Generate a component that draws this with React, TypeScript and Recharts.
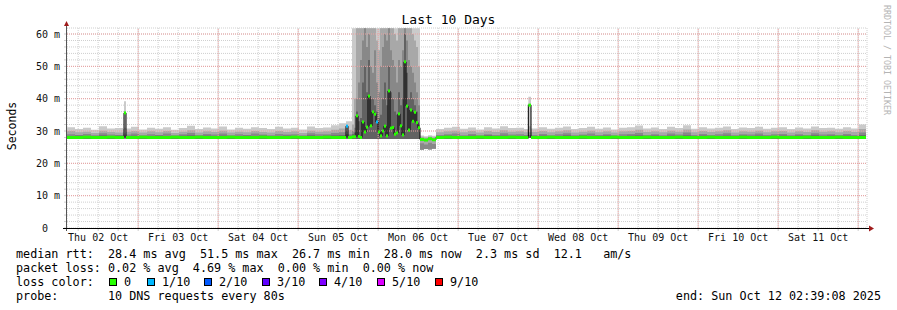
import React from 'react';
import { ComposedChart, Area, Line, XAxis, YAxis, CartesianGrid, ReferenceLine } from 'recharts';

// ---------------- data (hours since Thu 02 Oct 02:39) ----------------
const hours = [
  // before the event
  0, 2.4, 4.8, 7.2, 9.6, 12, 14.4, 16.8, 17.1, 17.7,
  19.2, 21.6, 24, 26.4, 28.8, 31.2, 33.6, 36, 38.4, 40.8,
  43.2, 45.6, 48, 50.4, 52.8, 55.2, 57.6, 60, 62.4, 64.8,
  67.2, 69.6, 72, 74.4, 76.8, 79.2, 81.6,
  // event Sun 05 / Mon 06
  83.7, 84.3, 84.9, 85.5, 86.1, 86.7, 87.3, 87.9, 88.5, 89.1,
  89.7, 90.3, 90.9, 91.5, 92.1, 92.7, 93.3, 93.9, 94.5, 95.1,
  95.7, 96.3, 96.9, 97.5, 98.1, 98.7, 99.3, 99.9, 100.5, 101.1,
  101.7, 102.3, 102.9, 103.5, 104.1, 104.7, 105.3,
  105.9, 107.1, 108.3, 109.5,
  // after the event
  110.7, 113.1, 115.5, 117.9, 120.3, 122.7, 125.1, 127.5, 129.9, 132.3,
  134.7, 137.1, 138.4, 139.2, 141.6, 144, 146.4, 148.8, 151.2, 153.6,
  156, 158.4, 160.8, 163.2, 165.6, 168, 170.4, 172.8, 175.2, 177.6,
  180, 182.4, 184.8, 187.2, 189.6, 192, 194.4, 196.8, 199.2, 201.6,
  204, 206.4, 208.8, 211.2, 213.6, 216, 218.4, 220.8, 223.2, 225.6,
  228, 230.4, 232.8, 235.2, 237.6, 239.7,
];

const median = [
  28.0, 28.0, 28.1, 28.0, 28.0, 28.1, 28.0, 28.0, 35.6, 28.0,
  28.0, 28.1, 28.0, 28.0, 28.0, 28.1, 28.0, 28.0, 28.1, 28.0,
  28.0, 28.0, 28.1, 28.0, 28.0, 28.0, 28.1, 28.0, 28.0, 28.0,
  28.1, 28.0, 28.0, 28.0, 28.1, 28.0, 28.0,
  31.5, 28.0, 28.0, 28.2, 28.2, 34.7, 28.3, 28.0, 32.8, 29.7,
  31.2, 40.8, 31.6, 35.9, 35.2, 32.8, 29.7, 28.5, 30.0, 31.5,
  28.5, 42.4, 30.9, 31.1, 29.0, 29.4, 35.3, 31.6, 28.8, 51.4,
  37.7, 30.3, 36.5, 33.0, 35.8, 32.6, 31.0,
  27.4, 27.2, 27.6, 27.3,
  28.0, 28.1, 28.0, 28.0, 28.0, 28.1, 28.0, 28.0, 28.0, 28.1,
  28.0, 28.0, 38.0, 28.0, 28.0, 28.1, 28.0, 28.0, 28.0, 28.1,
  28.0, 28.0, 28.0, 28.1, 28.0, 28.0, 28.0, 28.1, 28.0, 28.0,
  28.0, 28.1, 28.0, 28.0, 28.0, 28.1, 28.0, 28.0, 28.0, 28.1,
  28.0, 28.0, 28.0, 28.1, 28.0, 28.0, 28.0, 28.1, 28.0, 28.0,
  28.0, 28.1, 28.0, 28.0, 28.0, 28.0,
];

// lost pings out of 10
const lossTenths = [
  0, 0, 0, 0, 0, 0, 0, 0, 0, 0,
  0, 0, 0, 0, 0, 0, 0, 0, 0, 0,
  0, 0, 0, 0, 0, 0, 0, 0, 0, 0,
  0, 0, 0, 0, 0, 0, 0,
  1, 0, 0, 0, 0, 0, 0, 0, 0, 0,
  0, 0, 0, 0, 0, 1, 0, 0, 0, 0,
  0, 0, 0, 0, 0, 0, 0, 0, 0, 0,
  0, 0, 0, 0, 0, 0, 0,
  0, 0, 0, 0,
  0, 0, 0, 0, 0, 0, 0, 0, 0, 0,
  0, 0, 0, 0, 0, 0, 0, 0, 0, 0,
  0, 0, 0, 0, 0, 0, 0, 0, 0, 0,
  0, 0, 0, 0, 0, 0, 0, 0, 0, 0,
  0, 0, 0, 0, 0, 0, 0, 0, 0, 0,
  0, 0, 0, 0, 0, 0,
];

// smoke: lowest ping and four layer tops (light -> dark)
const smokeLow = [
  27.6, 27.6, 27.6, 27.6, 27.6, 27.6, 27.6, 27.6, 27.7, 27.6,
  27.6, 27.6, 27.6, 27.6, 27.6, 27.6, 27.6, 27.6, 27.6, 27.6,
  27.6, 27.6, 27.6, 27.6, 27.6, 27.6, 27.6, 27.6, 27.6, 27.6,
  27.6, 27.6, 27.6, 27.6, 27.6, 27.6, 27.6,
  27.6, 27.6, 27.6, 27.5, 27.5, 27.5, 27.5, 27.5, 27.5, 27.5,
  27.5, 27.5, 27.5, 27.5, 27.5, 27.5, 27.5, 27.5, 27.5, 27.5,
  27.5, 27.5, 27.5, 27.5, 27.5, 27.5, 27.5, 27.5, 27.5, 27.5,
  27.5, 27.5, 27.5, 27.5, 27.5, 27.5, 27.5,
  24.2, 24.4, 24.3, 24.5,
  27.6, 27.6, 27.6, 27.6, 27.6, 27.6, 27.6, 27.6, 27.6, 27.6,
  27.6, 27.6, 27.8, 27.6, 27.6, 27.6, 27.6, 27.6, 27.6, 27.6,
  27.6, 27.6, 27.6, 27.6, 27.6, 27.6, 27.6, 27.6, 27.6, 27.6,
  27.6, 27.6, 27.6, 27.6, 27.6, 27.6, 27.6, 27.6, 27.6, 27.6,
  27.6, 27.6, 27.6, 27.6, 27.6, 27.6, 27.6, 27.6, 27.6, 27.6,
  27.6, 27.6, 27.6, 27.6, 27.6, 27.6,
];

const smoke1 = [
  31.2, 30.6, 31.0, 30.4, 31.5, 30.8, 30.9, 30.6, 39.2, 30.8,
  31.3, 30.5, 31.0, 30.7, 31.2, 30.4, 30.9, 31.6, 30.6, 31.1,
  30.8, 31.4, 30.5, 31.0, 30.7, 31.2, 30.9, 30.6, 31.3, 30.8,
  31.0, 30.5, 31.4, 30.9, 31.1, 31.8, 32.4,
  33.0, 33.0, 33.0, 61.8, 61.8, 61.8, 61.8, 61.8, 61.8, 61.8,
  61.8, 61.8, 61.8, 61.8, 61.8, 61.8, 61.8, 61.8, 61.8, 61.8,
  61.8, 61.8, 61.8, 61.8, 61.8, 61.8, 61.8, 61.8, 61.8, 61.8,
  61.8, 61.8, 61.8, 61.8, 61.8, 61.8, 61.8,
  28.6, 28.4, 28.7, 28.5,
  30.6, 31.0, 31.3, 30.7, 31.1, 30.5, 31.2, 30.8, 31.5, 30.9,
  31.0, 30.6, 40.6, 30.8, 31.2, 30.7, 31.0, 31.4, 30.6, 30.9,
  31.3, 30.7, 31.1, 30.5, 31.0, 31.2, 31.7, 30.8, 31.1, 30.6,
  31.3, 30.9, 31.8, 30.7, 31.2, 30.8, 31.0, 31.4, 30.6, 31.1,
  30.9, 31.3, 30.7, 31.0, 31.2, 30.6, 31.1, 30.8, 31.4, 30.9,
  31.0, 30.7, 31.2, 30.8, 32.0, 32.0,
];

const smoke2 = [
  30.0, 29.6, 29.8, 29.4, 30.1, 29.7, 29.5, 29.6, 31.0, 29.8,
  30.0, 29.5, 29.9, 29.6, 30.0, 29.4, 29.8, 30.2, 29.5, 29.9,
  29.7, 30.1, 29.5, 29.8, 29.6, 30.0, 29.7, 29.5, 30.0, 29.7,
  29.9, 29.4, 30.1, 29.8, 29.9, 30.4, 30.8,
  31.0, 30.2, 30.4, 32.0, 40.0, 61.8, 61.8, 61.8, 61.8, 61.8,
  61.8, 61.8, 61.8, 61.8, 61.8, 58.0, 55.0, 61.8, 61.8, 61.8,
  61.8, 61.8, 61.8, 61.8, 60.0, 58.0, 61.8, 61.8, 61.8, 61.8,
  61.8, 61.8, 61.8, 60.0, 58.0, 56.0, 50.0,
  28.2, 28.0, 28.3, 28.1,
  29.6, 29.9, 30.1, 29.6, 30.0, 29.5, 30.0, 29.7, 30.2, 29.8,
  29.9, 29.6, 31.5, 29.7, 30.0, 29.6, 29.9, 30.2, 29.5, 29.8,
  30.1, 29.6, 29.9, 29.5, 29.9, 30.0, 30.4, 29.7, 29.9, 29.6,
  30.1, 29.8, 30.5, 29.6, 30.0, 29.7, 29.9, 30.2, 29.5, 29.9,
  29.8, 30.1, 29.6, 29.9, 30.0, 29.5, 29.9, 29.7, 30.2, 29.8,
  29.9, 29.6, 30.0, 29.7, 30.6, 30.6,
];

const smoke3 = [
  29.0, 28.8, 29.1, 28.7, 29.3, 28.9, 28.8, 28.9, 29.2, 28.9,
  29.2, 28.7, 29.0, 28.8, 29.2, 28.7, 29.0, 29.4, 28.8, 29.1,
  28.9, 29.2, 28.7, 29.0, 28.8, 29.2, 28.9, 28.7, 29.1, 28.9,
  29.0, 28.7, 29.3, 29.0, 29.0, 29.4, 29.6,
  30.0, 29.0, 29.0, 30.0, 31.0, 40.0, 45.0, 52.0, 58.0, 61.8,
  56.0, 60.0, 50.0, 48.0, 55.0, 45.0, 42.0, 50.0, 56.0, 60.0,
  58.0, 61.8, 55.0, 52.0, 50.0, 45.0, 52.0, 50.0, 55.0, 61.8,
  58.0, 52.0, 50.0, 48.0, 45.0, 42.0, 38.0,
  26.2, 25.8, 26.4, 26.0,
  28.8, 29.0, 29.2, 28.7, 29.1, 28.7, 29.0, 28.8, 29.3, 28.9,
  29.0, 28.7, 29.6, 28.8, 29.1, 28.7, 29.0, 29.3, 28.7, 28.9,
  29.2, 28.8, 29.0, 28.7, 29.0, 29.1, 29.4, 28.8, 29.0, 28.7,
  29.2, 28.9, 29.5, 28.8, 29.1, 28.8, 29.0, 29.3, 28.7, 29.0,
  28.9, 29.2, 28.8, 29.0, 29.1, 28.7, 29.0, 28.8, 29.3, 28.9,
  29.0, 28.8, 29.1, 28.8, 29.5, 29.5,
];

const smoke4 = [
  28.4, 28.5, 28.4, 28.4, 28.6, 28.4, 28.5, 28.4, 28.6, 28.4,
  28.5, 28.4, 28.4, 28.5, 28.4, 28.4, 28.5, 28.6, 28.4, 28.5,
  28.4, 28.5, 28.4, 28.4, 28.5, 28.4, 28.5, 28.4, 28.4, 28.5,
  28.4, 28.4, 28.6, 28.4, 28.5, 28.6, 28.7,
  29.0, 28.5, 28.5, 29.0, 29.5, 36.0, 33.0, 34.0, 45.0, 50.0,
  42.0, 52.0, 40.0, 40.0, 38.0, 36.0, 34.0, 35.0, 40.0, 45.0,
  38.0, 50.0, 42.0, 40.0, 36.0, 35.0, 42.0, 38.0, 40.0, 60.0,
  48.0, 40.0, 42.0, 40.0, 38.0, 36.0, 32.0,
  24.2, 24.4, 24.3, 24.5,
  28.4, 28.5, 28.4, 28.4, 28.5, 28.4, 28.6, 28.4, 28.5, 28.4,
  28.4, 28.5, 28.8, 28.4, 28.5, 28.4, 28.4, 28.6, 28.4, 28.5,
  28.4, 28.4, 28.5, 28.4, 28.4, 28.5, 28.6, 28.4, 28.5, 28.4,
  28.5, 28.4, 28.6, 28.4, 28.5, 28.4, 28.4, 28.5, 28.4, 28.5,
  28.4, 28.5, 28.4, 28.4, 28.5, 28.4, 28.5, 28.4, 28.6, 28.4,
  28.5, 28.4, 28.5, 28.4, 28.7, 28.7,
];

// axis labels
const dayLabels = ['Thu 02 Oct', 'Fri 03 Oct', 'Sat 04 Oct', 'Sun 05 Oct', 'Mon 06 Oct',
  'Tue 07 Oct', 'Wed 08 Oct', 'Thu 09 Oct', 'Fri 10 Oct', 'Sat 11 Oct'];
const noonHours = [9.35, 33.35, 57.35, 81.35, 105.35, 129.35, 153.35, 177.35, 201.35, 225.35];
const midnightHours = [21.35, 45.35, 69.35, 93.35, 117.35, 141.35, 165.35, 189.35, 213.35, 237.35];
const yMinorTicks = [0, 2, 4, 6, 8, 10, 12, 14, 16, 18, 20, 22, 24, 26, 28, 30, 32, 34, 36, 38,
  40, 42, 44, 46, 48, 50, 52, 54, 56, 58, 60];
const yMajorTicks = [10, 20, 30, 40, 50, 60];

// legend text
const title = 'Last 10 Days';
const rttStats = ['28.4 ms avg', '51.5 ms max', '26.7 ms min', '28.0 ms now', '2.3 ms sd', '12.1   am/s'];
const lossStats = ['0.02 % avg', '4.69 % max', '0.00 % min', '0.00 % now'];
const lossLegendLabels = ['0', '1/10', '2/10', '3/10', '4/10', '5/10', '9/10'];
const lossLegendColors = ['#26ff00', '#00b8ff', '#0059ff', '#5e00ff', '#7e00ff', '#dd00ff', '#ff0000'];
const lossLegendTenths = [0, 1, 2, 3, 4, 5, 9];
const probeText = '10 DNS requests every 80s';
const endText = 'end: Sun Oct 12 02:39:08 2025';

// ---------------- layout ----------------
const W = 897;
const H = 310;
const MARGIN = { top: 28, right: 30, bottom: 52, left: 0 };
const Y_AXIS_W = 67;
const X_AXIS_H = 30;
const SPAN_HOURS = 240;
const Y_MAX = 61.86;
const PLOT_L = MARGIN.left + Y_AXIS_W;
const PLOT_R = W - MARGIN.right;
const PLOT_T = MARGIN.top;
const PLOT_B = H - MARGIN.bottom - X_AXIS_H;
const PX_PER_HOUR = (PLOT_R - PLOT_L) / SPAN_HOURS;
const MONO = 'DejaVu Sans Mono, monospace';

const data = hours.map((h, i) => ({
  h,
  dh: i < hours.length - 1 ? hours[i + 1] - h : 0,
  median: median[i],
  loss: lossTenths[i],
  s1: [smokeLow[i], smoke1[i]],
  s2: [smokeLow[i], smoke2[i]],
  s3: [smokeLow[i], smoke3[i]],
  s4: [smokeLow[i], smoke4[i]],
}));

const xTicks: number[] = [];
noonHours.forEach((n) => { xTicks.push(n - 6, n, n + 6, n + 12); });

const colorForLoss = (l: number) => {
  let c = lossLegendColors[lossLegendColors.length - 1];
  for (let k = 0; k < lossLegendTenths.length; k++) {
    if (l <= lossLegendTenths[k]) { c = lossLegendColors[k]; break; }
  }
  return c;
};

const xTickFmt = (v: number) => {
  const j = noonHours.findIndex((n) => Math.abs(n - v) < 0.01);
  return j >= 0 ? dayLabels[j] : '';
};
const yTickFmt = (v: number) => {
  if (v === 0) return '0\u00a0\u00a0';
  return v % 10 === 0 ? `${v} m` : '';
};

const renderMedianDot = (props: any) => {
  const { cx, cy, index, payload } = props;
  if (cx == null || cy == null || !payload || !payload.dh) return <g key={`md${index}`} />;
  return (
    <rect key={`md${index}`} x={cx} y={cy - 1.5} width={payload.dh * PX_PER_HOUR} height={3}
      fill={colorForLoss(payload.loss)} />
  );
};

const MAJOR = '#eaa0a0';
const MINOR = '#cfcfcf';
const ARROW = '#a01c1c';

export default function App() {
  const sqX = [109, 147, 204, 262, 319, 377, 435];
  const rows = [258, 272, 286, 300];
  const txt = { fontFamily: MONO, fontSize: 11.75, fill: '#000', style: { whiteSpace: 'pre' as const } };
  const row1 = 'median rtt:  ' + rttStats.join('  ');
  const row2 = 'packet loss: ' + lossStats.join('  ');
  const row4 = 'probe:       ' + probeText;
  return (
    <div style={{ position: 'absolute', left: 0, top: 0, width: W, height: H, background: '#fff' }}>
      <ComposedChart width={W} height={H} data={data} margin={MARGIN}>
        <CartesianGrid stroke={MINOR} strokeDasharray="1 1" />
        <XAxis dataKey="h" type="number" domain={[0, SPAN_HOURS]} ticks={xTicks} interval={0}
          tickFormatter={xTickFmt} height={X_AXIS_H} axisLine={false}
          tickLine={{ stroke: MINOR }} tickSize={3} tickMargin={3}
          tick={{ fontFamily: MONO, fontSize: 10, fill: '#111' }} />
        <YAxis type="number" domain={[0, Y_MAX]} ticks={yMinorTicks} interval={0} allowDataOverflow
          tickFormatter={yTickFmt} width={Y_AXIS_W} axisLine={false}
          tickLine={{ stroke: MINOR }} tickSize={3} tickMargin={4}
          tick={{ fontFamily: MONO, fontSize: 10, fill: '#111' }} />
        <Area type="stepAfter" dataKey="s1" stroke="none" fill="#cacaca" fillOpacity={1} isAnimationActive={false} />
        <Area type="stepAfter" dataKey="s2" stroke="none" fill="#a8a8a8" fillOpacity={1} isAnimationActive={false} />
        <Area type="stepAfter" dataKey="s3" stroke="none" fill="#888888" fillOpacity={1} isAnimationActive={false} />
        <Area type="stepAfter" dataKey="s4" stroke="none" fill="#626262" fillOpacity={1} isAnimationActive={false} />
        {yMajorTicks.map((v) => (
          <ReferenceLine key={`ry${v}`} y={v} stroke={MAJOR} strokeDasharray="1 1" />
        ))}
        {midnightHours.map((v) => (
          <ReferenceLine key={`rx${v}`} x={v} stroke={MAJOR} strokeDasharray="1 1" />
        ))}
        <Line type="stepAfter" dataKey="median" stroke="#000" strokeWidth={1} dot={renderMedianDot}
          activeDot={false} isAnimationActive={false} />
      </ComposedChart>
      <svg width={W} height={H} style={{ position: 'absolute', left: 0, top: 0, pointerEvents: 'none' }}>
        {/* axes with arrows */}
        <line x1={PLOT_L - 0.5} y1={PLOT_B + 3} x2={PLOT_L - 0.5} y2={PLOT_T - 4} stroke="#555" strokeWidth={1} />
        <line x1={PLOT_L - 4} y1={PLOT_B + 0.5} x2={PLOT_R + 3} y2={PLOT_B + 0.5} stroke="#000" strokeWidth={1} />
        <polygon points={`${PLOT_L - 3},${PLOT_T - 2} ${PLOT_L + 2},${PLOT_T - 2} ${PLOT_L - 0.5},${PLOT_T - 7}`} fill={ARROW} />
        <polygon points={`${PLOT_R + 2},${PLOT_B - 2.5} ${PLOT_R + 2},${PLOT_B + 3.5} ${PLOT_R + 7},${PLOT_B + 0.5}`} fill={ARROW} />
        {/* title, axis title, watermark */}
        <text x={W / 2} y={24} textAnchor="middle" fontFamily={MONO} fontSize={13} fill="#000">{title}</text>
        <text x={15.5} y={126} textAnchor="middle" fontFamily={MONO} fontSize={11.5} fill="#000"
          transform="rotate(-90 15.5 126)">Seconds</text>
        <text x={884} y={5} textAnchor="start" fontFamily={MONO} fontSize={8.3} fill="#b4b4b4"
          transform="rotate(90 884 5)">RRDTOOL / TOBI OETIKER</text>
        {/* legend rows */}
        <text x={16} y={rows[0]} {...txt}>{row1}</text>
        <text x={16} y={rows[1]} {...txt}>{row2}</text>
        <text x={16} y={rows[2]} {...txt}>loss color:</text>
        {lossLegendLabels.map((s, i) => (
          <g key={`c${i}`}>
            <rect x={sqX[i] + 0.5} y={rows[2] - 7.5} width={7} height={7} fill={lossLegendColors[i]} stroke="#000" strokeWidth={1} />
            <text x={sqX[i] + 15} y={rows[2]} {...txt}>{s}</text>
          </g>
        ))}
        <text x={16} y={rows[3]} {...txt}>{row4}</text>
        <text x={881} y={rows[3]} textAnchor="end" {...txt}>{endText}</text>
      </svg>
    </div>
  );
}
